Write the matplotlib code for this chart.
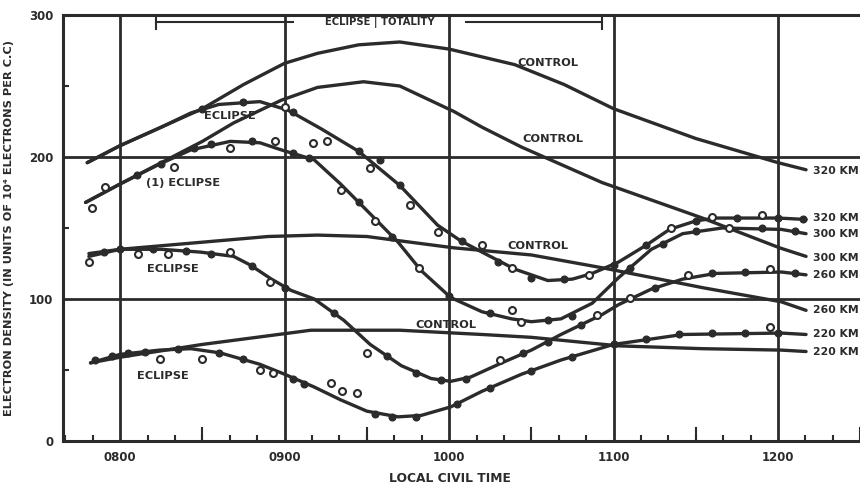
import matplotlib.pyplot as plt
from matplotlib.ticker import MultipleLocator

# times in decimal hours (local civil time), densities in 10^4 el/cc
c320_t = [7.80, 8.0, 8.25, 8.5, 8.75, 9.0, 9.2, 9.45, 9.7, 10.0, 10.4, 10.7, 11.0, 11.5, 12.0, 12.17]
c320_v = [196, 208, 221, 234, 251, 266, 273, 279, 281, 276, 265, 251, 234, 213, 196, 191]

c300_t = [7.79, 8.0, 8.5, 8.69, 8.98, 9.2, 9.48, 9.7, 10.03, 10.2, 10.44, 10.93, 11.54, 12.01, 12.17]
c300_v = [168, 181, 211, 224, 240, 249, 253, 250, 232, 221, 207, 182, 157, 136, 130]

c260_t = [7.81, 8.0, 8.5, 8.9, 9.2, 9.5, 10.03, 10.5, 10.93, 11.54, 12.02, 12.17]
c260_v = [132, 135, 140, 144, 145, 144, 136, 131, 122, 108, 98, 92]

c220_t = [7.82, 8.0, 8.5, 9.16, 9.7, 10.2, 10.5, 11.03, 11.54, 12.02, 12.17]
c220_v = [55, 59, 68, 78, 78, 75, 73, 67, 65, 64, 63]

e320_t = [7.80, 8.0, 8.25, 8.43, 8.6, 8.85, 9.02, 9.22, 9.45, 9.7, 9.93, 10.07, 10.2, 10.4,
          10.6, 10.75, 10.87, 11.03, 11.2, 11.34, 11.5, 11.62, 12.0, 12.17]
e320_v = [196, 208, 221, 231, 237, 239, 233, 220, 204, 180, 152, 141, 133, 121,
          113, 114, 118, 126, 138, 149, 155, 157, 157, 156]

e300_t = [7.79, 8.0, 8.24, 8.43, 8.67, 8.85, 8.98, 9.18, 9.34, 9.52, 9.69, 9.83, 10.01, 10.2,
          10.38, 10.5, 10.68, 10.87, 11.03, 11.23, 11.42, 11.66, 12.02, 12.17]
e300_v = [168, 181, 195, 205, 211, 210, 205, 198, 181, 160, 140, 120, 101, 91,
          86, 84, 86, 97, 115, 135, 146, 150, 149, 146]

e260_t = [7.81, 8.0, 8.25, 8.49, 8.69, 8.79, 8.92, 9.04, 9.18, 9.36, 9.52, 9.71, 9.89, 10.01,
          10.13, 10.32, 10.5, 10.68, 10.93, 11.03, 11.23, 11.42, 11.62, 12.02, 12.17]
e260_v = [130, 135, 135, 133, 130, 124, 114, 106, 100, 85, 68, 53, 44, 42,
          45, 55, 64, 75, 89, 96, 107, 114, 118, 119, 117]

e220_t = [7.82, 8.0, 8.24, 8.43, 8.61, 8.85, 9.0, 9.18, 9.34, 9.5, 9.69, 9.83, 10.01, 10.2,
          10.44, 10.68, 11.0, 11.42, 12.02, 12.17]
e220_v = [55, 61, 64, 65, 62, 54, 47, 38, 29, 21, 17, 18, 24, 35,
          47, 57, 68, 75, 76, 75]

# observed values: open circles and solid dots
o320_t = [9.0, 9.17, 9.26, 9.52, 9.76, 9.93, 10.2, 10.38, 10.85, 11.35, 11.6, 11.9]
o320_v = [235, 210, 211, 192, 166, 147, 138, 122, 117, 150, 158, 159]
d320_t = [8.5, 8.75, 9.05, 9.45, 9.58, 9.7, 10.08, 10.3, 10.5, 10.7, 11.0, 11.2, 11.5, 11.75, 12.0, 12.15]
d320_v = [234, 239, 232, 204, 198, 180, 141, 126, 115, 114, 124, 138, 155, 157, 157, 156]

o300_t = [7.83, 7.91, 8.33, 8.67, 8.94, 9.34, 9.55, 9.82, 10.38, 10.44, 10.9, 11.7]
o300_v = [164, 179, 193, 206, 211, 177, 155, 122, 92, 84, 89, 150]
d300_t = [8.1, 8.25, 8.45, 8.55, 8.8, 9.05, 9.15, 9.45, 9.65, 10.0, 10.25, 10.6, 10.75, 11.1, 11.3, 11.5, 11.9, 12.1]
d300_v = [187, 195, 206, 209, 211, 203, 199, 168, 144, 102, 90, 85, 88, 122, 139, 148, 150, 148]

o260_t = [7.81, 8.11, 8.29, 8.67, 8.91, 9.5, 10.31, 11.1, 11.45, 11.95]
o260_v = [126, 132, 132, 133, 112, 62, 57, 101, 117, 121]
d260_t = [7.9, 8.0, 8.2, 8.4, 8.55, 8.8, 9.0, 9.3, 9.62, 9.8, 9.95, 10.1, 10.45, 10.6, 10.8, 11.25, 11.6, 11.8, 12.1]
d260_v = [133, 135, 135, 134, 132, 123, 108, 90, 60, 48, 43, 44, 62, 70, 82, 108, 118, 119, 118]

o220_t = [8.24, 8.5, 8.85, 8.93, 9.28, 9.35, 9.44, 11.95]
o220_v = [58, 58, 50, 48, 41, 35, 34, 80]
d220_t = [7.85, 7.95, 8.05, 8.15, 8.35, 8.6, 8.75, 9.05, 9.12, 9.55, 9.65, 9.8, 10.05,
          10.25, 10.5, 10.75, 11.0, 11.2, 11.4, 11.6, 11.8, 12.0]
d220_v = [57, 60, 62, 63, 65, 62, 58, 44, 40, 19, 17, 17, 26,
          37, 49, 59, 68, 72, 75, 76, 76, 76]

end_labels = ["320 KM", "320 KM", "300 KM", "300 KM", "260 KM", "260 KM", "220 KM", "220 KM"]
end_values = [190, 157, 146, 129, 117, 92, 75, 63]

half_hours = [7.5, 8.5, 9.5, 10.5, 11.5, 12.5]

ink = "#2b2b2b"
plt.rcParams['font.family'] = ['DejaVu Sans']
plt.rcParams['font.weight'] = 'bold'

fig = plt.figure(figsize=(8.6, 4.87), dpi=100)
ax = fig.add_axes([0.0733, 0.0945, 0.9267, 0.8747])
ax.set_xlim(7.653, 12.498)
ax.set_ylim(0, 300)

# grid lines
for h in [8, 9, 10, 11, 12]:
    ax.axvline(h, color=ink, lw=2.0, zorder=1)
for v in [100, 200]:
    ax.axhline(v, color=ink, lw=2.0, zorder=1)

for t, v in [(c320_t, c320_v), (c300_t, c300_v), (c260_t, c260_v), (c220_t, c220_v),
             (e320_t, e320_v), (e300_t, e300_v), (e260_t, e260_v), (e220_t, e220_v)]:
    ax.plot(t, v, color=ink, lw=2.4, solid_joinstyle='round', solid_capstyle='round', zorder=3)

for t, v in [(d320_t, d320_v), (d300_t, d300_v), (d260_t, d260_v), (d220_t, d220_v)]:
    ax.plot(t, v, 'o', ms=4.8, color=ink, zorder=4)
for t, v in [(o320_t, o320_v), (o300_t, o300_v), (o260_t, o260_v), (o220_t, o220_v)]:
    ax.plot(t, v, 'o', ms=5.0, mfc='white', mec=ink, mew=1.5, zorder=5)

txt = dict(color=ink, fontsize=8.2, fontweight='bold', ha='center', va='center', zorder=6)
ax.text(10.6, 266, "CONTROL", **txt)
ax.text(10.63, 213, "CONTROL", **txt)
ax.text(10.54, 137, "CONTROL", **txt)
ax.text(9.98, 82, "CONTROL", **txt)
ax.text(8.67, 229, "ECLIPSE", **txt)
ax.text(8.38, 182, "(1) ECLIPSE", **txt)
ax.text(8.32, 121, "ECLIPSE", **txt)
ax.text(8.26, 46, "ECLIPSE", **txt)

for lab, v in zip(end_labels, end_values):
    ax.text(12.21, v, lab, color=ink, fontsize=7.8, fontweight='bold', ha='left', va='center')

# eclipse / totality bar across the top
ax.plot([8.22, 9.05], [295, 295], color=ink, lw=1.5)
ax.plot([10.1, 10.93], [295, 295], color=ink, lw=1.5)
ax.plot([8.22, 8.22], [290, 299], color=ink, lw=1.5)
ax.plot([10.93, 10.93], [290, 299], color=ink, lw=1.5)
ax.text(9.58, 295, "ECLIPSE | TOTALITY", color=ink, fontsize=7.2, fontweight='bold',
        ha='center', va='center')

ax.spines['right'].set_visible(False)
for s in ['left', 'bottom', 'top']:
    ax.spines[s].set_color(ink)
    ax.spines[s].set_linewidth(2.2)

ax.set_xticks([8, 9, 10, 11, 12])
ax.set_xticklabels(["0800", "0900", "1000", "1100", "1200"])
ax.xaxis.set_minor_locator(MultipleLocator(1 / 6))
ax.set_yticks([0, 100, 200, 300])
ax.yaxis.set_minor_locator(MultipleLocator(50))
ax.tick_params(axis='both', which='major', length=0, labelsize=8.5, colors=ink, pad=7)
ax.tick_params(axis='both', which='minor', direction='in', length=4, width=1.5, color=ink)
for lab in ax.get_xticklabels() + ax.get_yticklabels():
    lab.set_fontweight('bold')

# longer marks at the half hours
for h in half_hours:
    ax.plot([h, h], [0, 9], color=ink, lw=1.5, zorder=2, clip_on=True)

ax.set_xlabel("LOCAL CIVIL TIME", fontsize=8.8, fontweight='bold', color=ink)
ax.xaxis.set_label_coords(0.486, -0.072)
ax.set_ylabel("ELECTRON DENSITY (IN UNITS OF 10\u2074 ELECTRONS PER C.C)", fontsize=8.2,
              fontweight='bold', color=ink)
ax.yaxis.set_label_coords(-0.062, 0.5)

fig.savefig("out.png", dpi=100)
